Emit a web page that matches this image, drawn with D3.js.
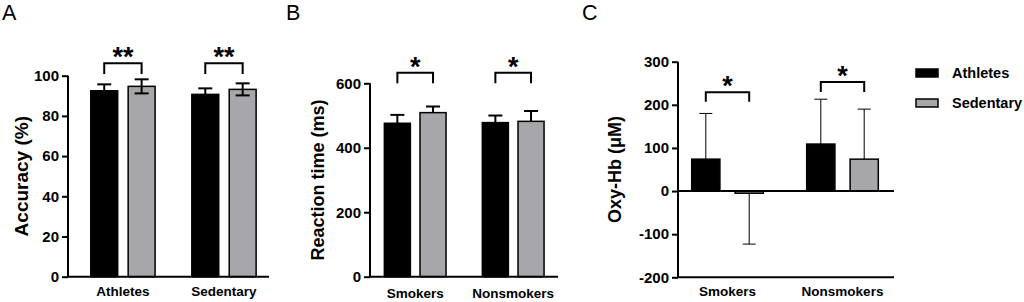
<!DOCTYPE html>
<html>
<head>
<meta charset="utf-8">
<script src="https://cdn.jsdelivr.net/npm/d3@7"></script>
<style>
  body { margin: 0; background: #fff; }
  svg text { font-family: "Liberation Sans", Arial, sans-serif; font-weight: bold; fill: #000; }
  svg text.panel { font-weight: normal; }
</style>
</head>
<body>
<div id="chart"></div>
<script>
// data
var seriesNames = ["Athletes", "Sedentary"];
var groupsA = ["Athletes", "Sedentary"];
var groupsBC = ["Smokers", "Nonsmokers"];

// A - accuracy (%)
var accAthletes = [92.5, 90.7], accAthletesSd = [3.2, 3.0];
var accSedentary = [94.7, 93.2], accSedentarySd = [3.5, 3.0];
var accTicks = [0, 20, 40, 60, 80, 100];
var accSig = ["**", "**"], accBracketLo = [100.8, 100.8], accBracketHi = [106.2, 106.2];

// B - reaction time (ms)
var rtAthletes = [476, 478], rtAthletesSd = [26, 22];
var rtSedentary = [509, 482], rtSedentarySd = [19, 32];
var rtTicks = [0, 200, 400, 600];
var rtSig = ["*", "*"], rtBracketLo = [600, 600], rtBracketHi = [633, 633];

// C - Oxy-Hb (uM)
var oxyAthletes = [74, 109], oxyAthletesSd = [106, 104];
var oxySedentary = [-5, 74], oxySedentarySd = [118, 116];
var oxyTicks = [-200, -100, 0, 100, 200, 300];
var oxySig = ["*", "*"], oxyBracketLo = [207, 230], oxyBracketHi = [229, 253];

var colors = ["#000000", "#a6a6ab"];

var svg = d3.select("#chart").append("svg")
    .attr("width", 1024)
    .attr("height", 302);

// one bar panel
function drawPanel(o) {
    var g = svg.append("g");

    var y = d3.scaleLinear().domain(o.domain).range(o.yRange);
    var x = d3.scaleBand().domain(o.groups).range(o.bandRange).padding(0);
    var xs = d3.scaleBand().domain(seriesNames)
        .range([-o.groupW / 2, o.groupW / 2]).paddingInner(o.inner);

    // rows: one per bar
    var rows = [];
    o.groups.forEach(function(grp, i) {
        rows.push({group: grp, s: "Athletes", v: o.a[i], sd: o.aSd[i], c: colors[0]});
        rows.push({group: grp, s: "Sedentary", v: o.b[i], sd: o.bSd[i], c: colors[1]});
    });
    var bx = function(d) { return x(d.group) + x.bandwidth() / 2 + xs(d.s); };

    // error bars (behind bars)
    var eb = g.selectAll(".err").data(rows).enter().append("g")
        .attr("stroke", "#000")
        .attr("stroke-width", o.errW);
    eb.each(function(d) {
        var cx = bx(d) + xs.bandwidth() / 2;
        var sel = d3.select(this);
        var ends = o.both ? [d.v + d.sd, d.v - d.sd] : [d.v + (d.v < 0 ? -d.sd : d.sd)];
        ends.forEach(function(e) {
            sel.append("line").attr("x1", cx).attr("x2", cx)
                .attr("y1", y(d.v)).attr("y2", y(e));
            sel.append("line").attr("x1", cx - o.cap / 2).attr("x2", cx + o.cap / 2)
                .attr("y1", y(e)).attr("y2", y(e));
        });
    });

    g.selectAll(".bar").data(rows).enter().append("rect")
        .attr("x", bx)
        .attr("width", xs.bandwidth())
        .attr("y", function(d) { return y(Math.max(0, d.v)); })
        .attr("height", function(d) { return Math.abs(y(d.v) - y(0)); })
        .attr("fill", function(d) { return d.c; })
        .attr("stroke", "#000")
        .attr("stroke-width", 1.5);

    // gray error bar lower part drawn above the bar
    if (o.both) {
        g.selectAll(".errIn").data(rows.filter(function(d) { return d.c !== colors[0]; }))
            .enter().append("g").attr("stroke", "#000").attr("stroke-width", o.errW)
            .each(function(d) {
                var cx = bx(d) + xs.bandwidth() / 2;
                var e = d.v - d.sd;
                d3.select(this).append("line").attr("x1", cx).attr("x2", cx)
                    .attr("y1", y(d.v)).attr("y2", y(e));
                d3.select(this).append("line").attr("x1", cx - o.cap / 2).attr("x2", cx + o.cap / 2)
                    .attr("y1", y(e)).attr("y2", y(e));
            });
    }

    // y axis
    var yAxis = g.append("g")
        .attr("transform", "translate(" + o.axisX + ",0)")
        .call(d3.axisLeft(y).tickValues(o.ticks).tickSize(6).tickPadding(3)
            .tickFormat(function(d) { return String(d); }));
    yAxis.selectAll("path, line").attr("stroke", "#000").attr("stroke-width", 2);
    yAxis.selectAll("text").style("font-size", "15px");
    yAxis.select(".domain").attr("d", "M0," + y(o.domain[0]) + "V" + y(o.domain[1]));

    // x axis line at baseline (and zero line)
    g.append("line")
        .attr("x1", o.axisX).attr("x2", o.axisEnd)
        .attr("y1", y(o.domain[0])).attr("y2", y(o.domain[0]))
        .attr("stroke", "#000").attr("stroke-width", 2);
    if (o.domain[0] < 0) {
        g.append("line")
            .attr("x1", o.axisX).attr("x2", o.axisEnd)
            .attr("y1", y(0)).attr("y2", y(0))
            .attr("stroke", "#000").attr("stroke-width", 2);
    }

    var xAxis = g.append("g")
        .attr("transform", "translate(0," + y(o.domain[0]) + ")")
        .call(d3.axisBottom(x).tickSize(0).tickPadding(o.labelPad));
    xAxis.select(".domain").remove();
    xAxis.selectAll("text").style("font-size", "13.5px");

    // y title
    g.append("text")
        .attr("transform", "translate(" + o.titleX + "," + ((o.yRange[0] + o.yRange[1]) / 2) + ") rotate(-90)")
        .attr("text-anchor", "middle")
        .style("font-size", o.titleSize + "px")
        .text(o.title);

    // significance brackets
    o.groups.forEach(function(grp, i) {
        var x1 = x(grp) + x.bandwidth() / 2 + xs("Athletes") + xs.bandwidth() / 2;
        var x2 = x(grp) + x.bandwidth() / 2 + xs("Sedentary") + xs.bandwidth() / 2;
        var lo = y(o.lo[i]), hi = y(o.hi[i]);
        g.append("path")
            .attr("d", "M" + x1 + "," + lo + "V" + hi + "H" + x2 + "V" + lo)
            .attr("fill", "none").attr("stroke", "#000").attr("stroke-width", 2);
        g.append("text")
            .attr("x", (x1 + x2) / 2).attr("y", hi + 3)
            .attr("text-anchor", "middle")
            .style("font-size", "27px")
            .text(o.sig[i]);
    });

    // panel letter
    g.append("text").attr("class", "panel")
        .attr("x", o.letterX).attr("y", 20)
        .style("font-size", "21.5px")
        .text(o.letter);
}

drawPanel({
    letter: "A", letterX: 2,
    groups: groupsA, a: accAthletes, aSd: accAthletesSd, b: accSedentary, bSd: accSedentarySd,
    domain: [0, 100], yRange: [276.7, 75.7], ticks: accTicks,
    bandRange: [72.4, 274.5], groupW: 64.3, inner: 0.28,
    axisX: 68, axisEnd: 269, both: true, errW: 2, cap: 14, labelPad: 10,
    title: "Accuracy (%)", titleX: 28, titleSize: 19,
    sig: accSig, lo: accBracketLo, hi: accBracketHi
});

drawPanel({
    letter: "B", letterX: 286,
    groups: groupsBC, a: rtAthletes, aSd: rtAthletesSd, b: rtSedentary, bSd: rtSedentarySd,
    domain: [0, 600], yRange: [276.7, 83.3], ticks: rtTicks,
    bandRange: [366.2, 562.2], groupW: 61.7, inner: 0.27,
    axisX: 370, axisEnd: 558, both: false, errW: 2, cap: 14, labelPad: 12,
    title: "Reaction time (ms)", titleX: 324, titleSize: 18,
    sig: rtSig, lo: rtBracketLo, hi: rtBracketHi
});

drawPanel({
    letter: "C", letterX: 582,
    groups: groupsBC, a: oxyAthletes, aSd: oxyAthletesSd, b: oxySedentary, bSd: oxySedentarySd,
    domain: [-200, 300], yRange: [277.3, 61.7], ticks: oxyTicks,
    bandRange: [670, 900], groupW: 71.6, inner: 0.35,
    axisX: 678, axisEnd: 894, both: false, errW: 1, cap: 13, labelPad: 9,
    title: "Oxy-Hb (\u03bcM)", titleX: 621, titleSize: 18,
    sig: oxySig, lo: oxyBracketLo, hi: oxyBracketHi
});

// legend
var legend = svg.append("g").attr("transform", "translate(916,69)");
seriesNames.forEach(function(s, i) {
    legend.append("rect")
        .attr("x", 0).attr("y", i * 30)
        .attr("width", 22).attr("height", 8)
        .attr("fill", colors[i]).attr("stroke", "#000").attr("stroke-width", 1.5);
    legend.append("text")
        .attr("x", 36).attr("y", i * 30 + 9)
        .style("font-size", "14.5px")
        .text(s);
});
</script>
</body>
</html>
